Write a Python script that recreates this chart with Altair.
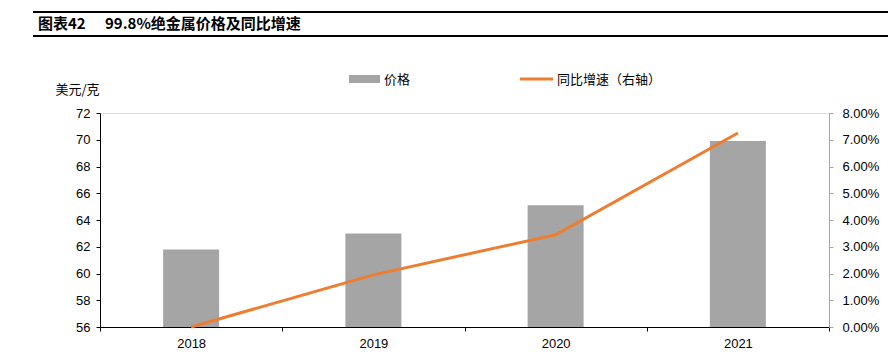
import altair as alt
import pandas as pd

years = ["2018", "2019", "2020", "2021"]
price = [61.8, 63.0, 65.1, 69.9]
growth = [0.0, 0.0195, 0.0345, 0.0725]

left_ticks = [56, 58, 60, 62, 64, 66, 68, 70, 72]
right_ticks = [0.0, 0.01, 0.02, 0.03, 0.04, 0.05, 0.06, 0.07, 0.08]

title_label = "图表42"
title_text = "99.8%绝金属价格及同比增速"
left_unit = "美元/克"
legend_bar = "价格"
legend_line = "同比增速（右轴）"

df = pd.DataFrame({"year": years, "price": price, "growth": growth})
one = pd.DataFrame({"k": [0]})

LAT = "Liberation Sans"
CJK = "Noto Sans CJK SC"
GRAY = "#A5A5A5"
ORANGE = "#ED7D31"

xenc = alt.X("year:N", sort=years,
             scale=alt.Scale(paddingInner=0, paddingOuter=0),
             axis=alt.Axis(title=None, labelAngle=0, domainColor="black",
                           tickColor="black", tickSize=4, tickBand="extent",
                           labelPadding=6, labelFont=LAT, labelFontSize=13,
                           labelColor="black", grid=False))

bars = alt.Chart(df).mark_bar(size=56, color=GRAY, clip=True).encode(
    x=xenc,
    y=alt.Y("price:Q", scale=alt.Scale(domain=[56, 72], zero=False, nice=False),
            axis=alt.Axis(values=left_ticks, title=left_unit, titleAngle=0,
                          titleX=-45, titleY=-24, titleAlign="left",
                          titleBaseline="middle", titleFont=CJK,
                          titleFontWeight="normal", titleFontSize=13,
                          titleColor="black", domainColor="black",
                          tickColor="black", tickSize=4, labelPadding=6,
                          labelFont=LAT, labelFontSize=13, labelColor="black",
                          grid=False)),
)

line = alt.Chart(df).mark_line(color=ORANGE, strokeWidth=3).encode(
    x=xenc,
    y=alt.Y("growth:Q", scale=alt.Scale(domain=[0, 0.08], nice=False),
            axis=alt.Axis(orient="right", values=right_ticks, format=".2%",
                          title=None, domainColor="#A6A6A6", tickColor="#A6A6A6",
                          tickSize=4, labelPadding=9, labelFont=LAT,
                          labelFontSize=13, labelColor="black", grid=False)),
)

base = alt.Chart(one)

title_mark1 = base.mark_text(text=title_label, font=CJK, fontSize=15,
                             fontWeight="bold", align="left", baseline="middle",
                             color="black").encode(x=alt.value(-62), y=alt.value(-89))
title_mark2 = base.mark_text(text=title_text, font=CJK, fontSize=15,
                             fontWeight="bold", align="left", baseline="middle",
                             color="black").encode(x=alt.value(5), y=alt.value(-89))
rule_top = base.mark_rule(color="black", strokeWidth=2).encode(
    x=alt.value(-67), x2=alt.value(800), y=alt.value(-101))
rule_bot = base.mark_rule(color="black", strokeWidth=2).encode(
    x=alt.value(-67), x2=alt.value(800), y=alt.value(-77))

leg_rect = base.mark_rect(color=GRAY).encode(
    x=alt.value(249), x2=alt.value(280), y=alt.value(-38), y2=alt.value(-30))
leg_text1 = base.mark_text(text=legend_bar, font=CJK, fontSize=13, align="left",
                           baseline="middle", color="black").encode(
    x=alt.value(284), y=alt.value(-33))
leg_line = base.mark_rule(color=ORANGE, strokeWidth=3).encode(
    x=alt.value(420), x2=alt.value(453), y=alt.value(-34))
leg_text2 = base.mark_text(text=legend_line, font=CJK, fontSize=13, align="left",
                           baseline="middle", color="black").encode(
    x=alt.value(457), y=alt.value(-33))

chart = alt.layer(
    bars, line, title_mark1, title_mark2, rule_top, rule_bot,
    leg_rect, leg_text1, leg_line, leg_text2
).resolve_scale(y="independent").properties(
    width=729, height=214,
    autosize=alt.AutoSizeParams(type="none"),
    padding={"left": 92, "top": 105, "right": 59, "bottom": 27},
).configure_view(stroke=None).configure(background="white")

chart.save("out.html", embed_options={"renderer": "svg", "actions": False})
